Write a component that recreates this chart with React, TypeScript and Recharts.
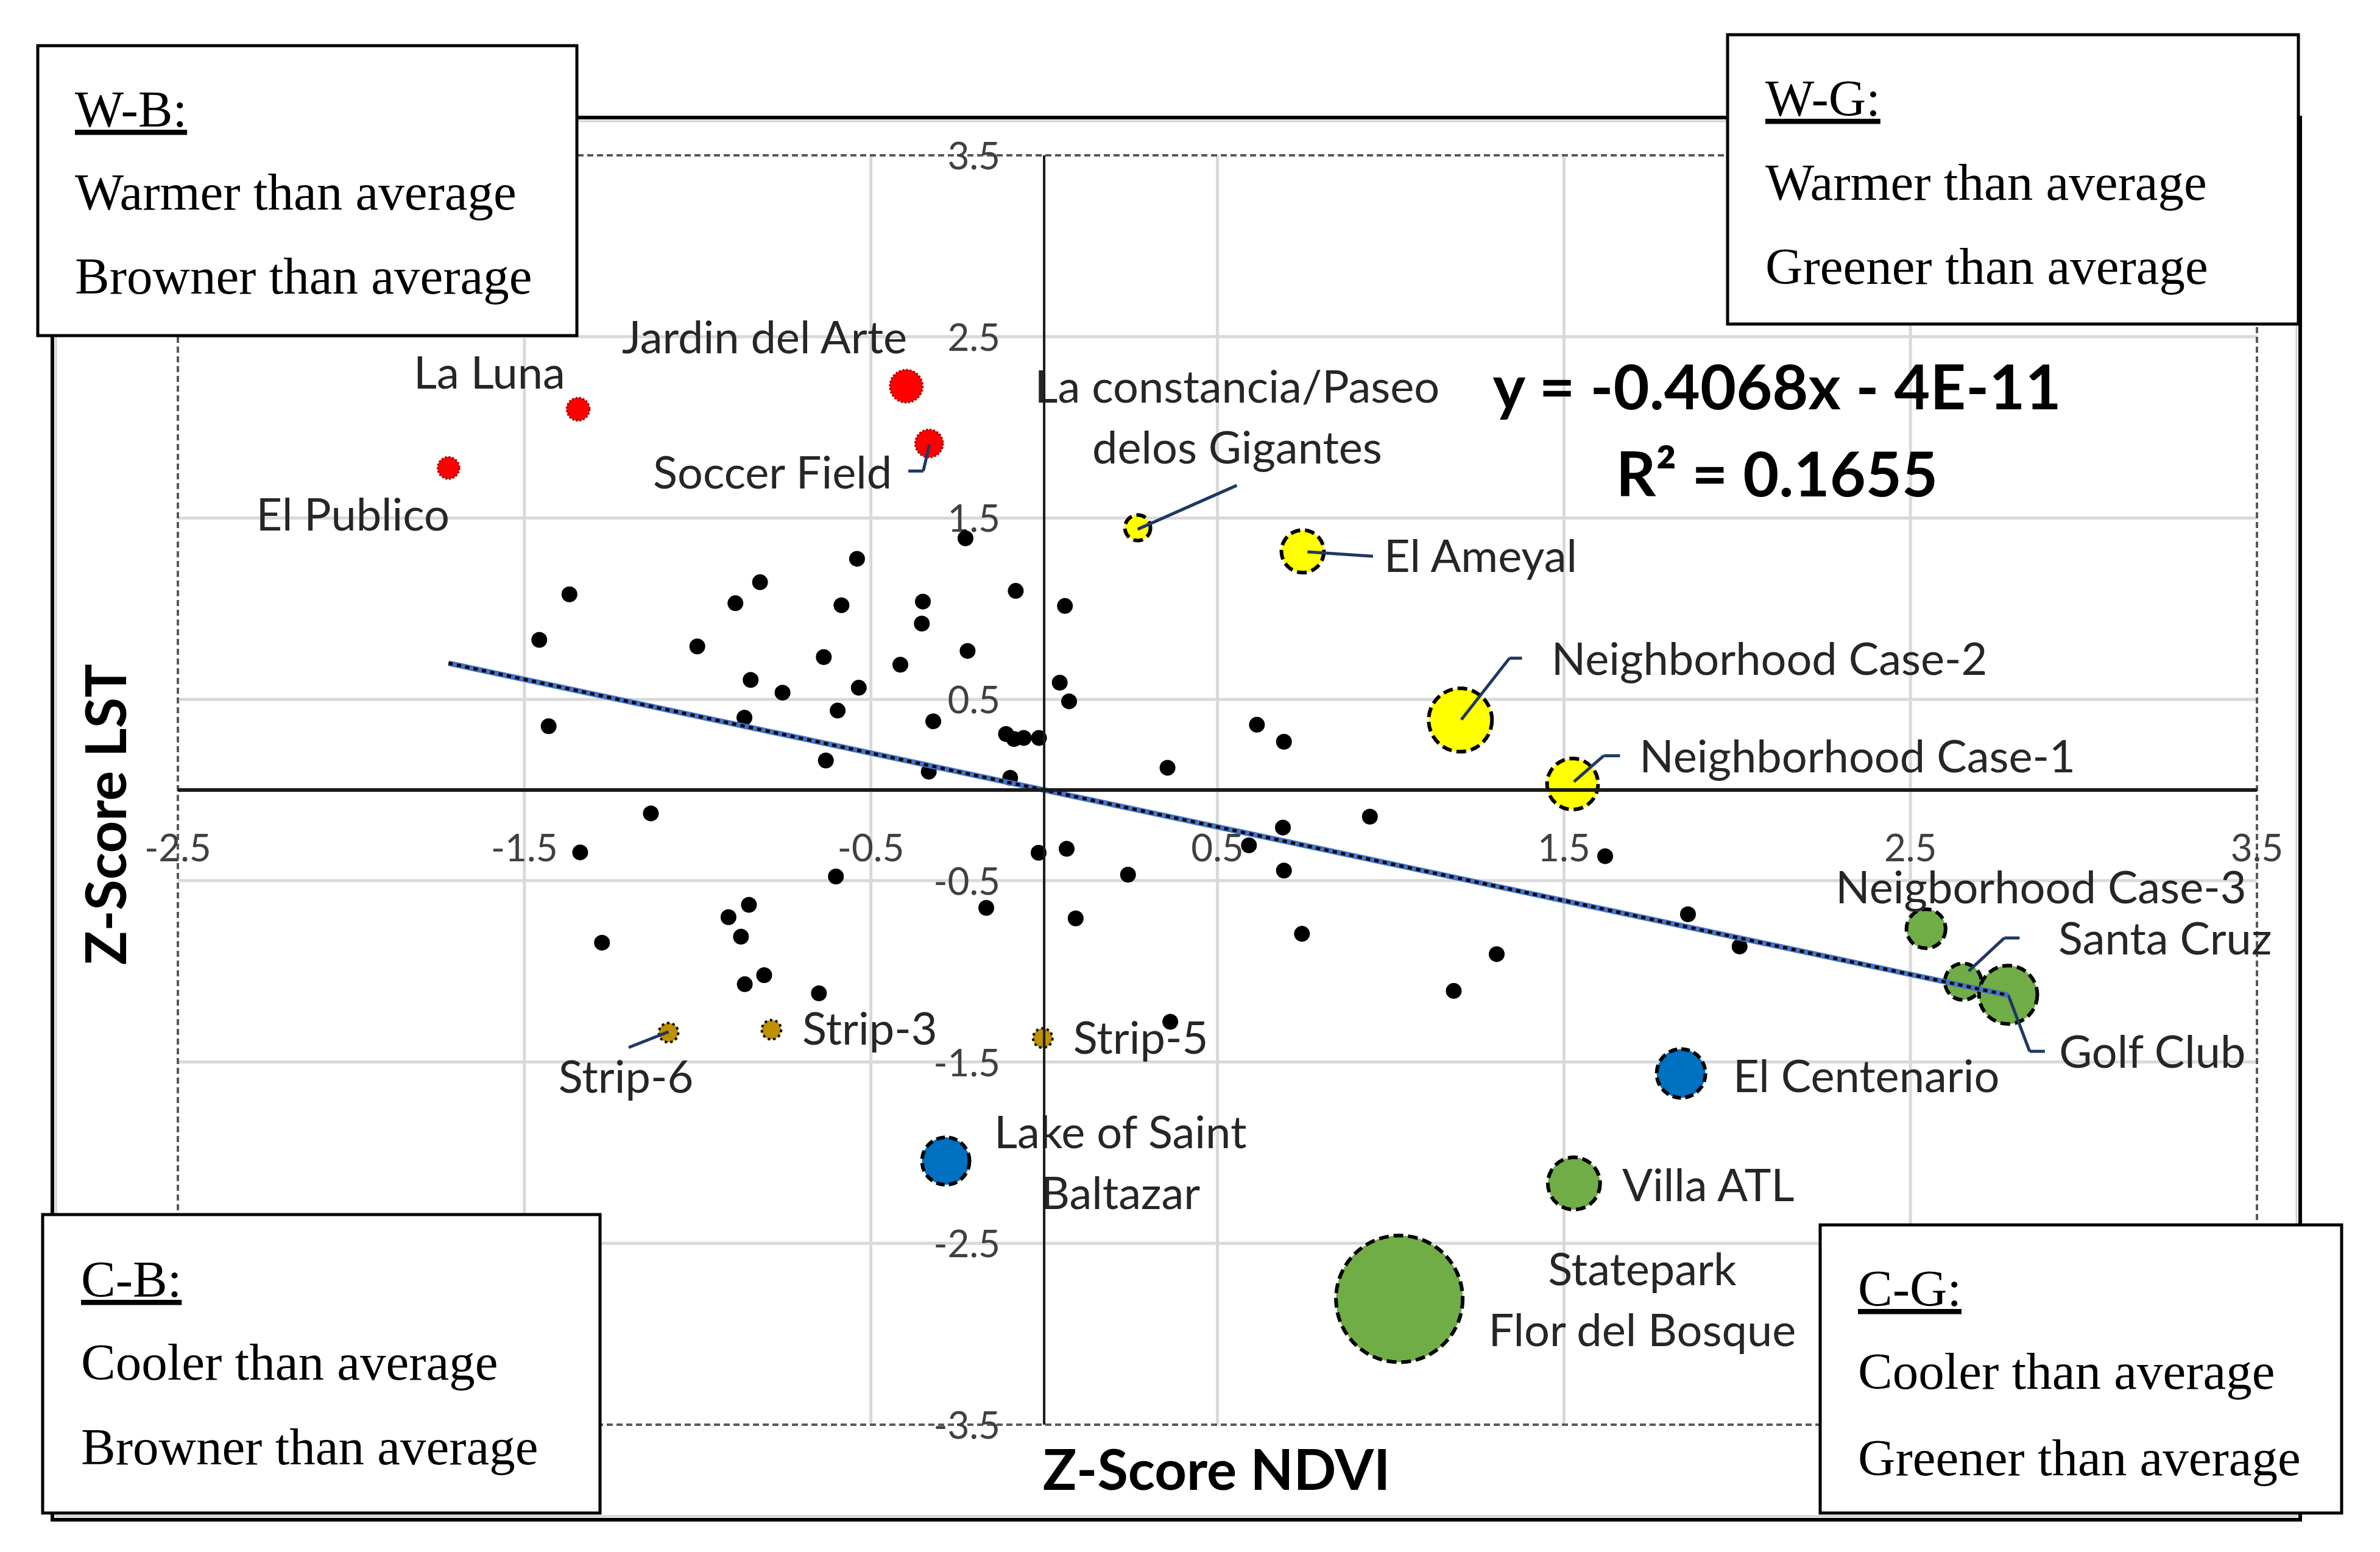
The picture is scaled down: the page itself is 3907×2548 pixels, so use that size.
import React from 'react';
import { ScatterChart, Scatter, XAxis, YAxis, ReferenceLine } from 'recharts';

const W = 3907;
const H = 2548;

const xDomain = [-2.5, 3.5];
const yDomain = [-3.5, 3.5];
const xTicks = [-2.5, -1.5, -0.5, 0.5, 1.5, 2.5, 3.5];
const yTicks = [3.5, 2.5, 1.5, 0.5, -0.5, -1.5, -2.5, -3.5];

const trendSlope = -0.4068;
const trendIntercept = -4e-11;
const equationText = 'y = -0.4068x - 4E-11';
const r2Text = 'R\u00B2 = 0.1655';

// other sites (black dots): x = Z-Score NDVI, y = Z-Score LST
const otherSites = [
  { x: -0.227, y: 1.388 }, { x: -0.54, y: 1.275 }, { x: -0.82, y: 1.146 }, { x: -1.37, y: 1.079 },
  { x: -0.891, y: 1.03 }, { x: -0.585, y: 1.019 }, { x: -0.35, y: 1.039 }, { x: -0.082, y: 1.098 },
  { x: 0.06, y: 1.015 }, { x: -0.353, y: 0.918 }, { x: -1.457, y: 0.828 }, { x: -1.001, y: 0.792 },
  { x: -0.636, y: 0.733 }, { x: -0.221, y: 0.767 }, { x: -0.415, y: 0.691 }, { x: -0.847, y: 0.607 },
  { x: -0.755, y: 0.537 }, { x: -0.535, y: 0.564 }, { x: 0.045, y: 0.592 }, { x: 0.072, y: 0.489 },
  { x: -0.596, y: 0.438 }, { x: -1.43, y: 0.352 }, { x: -0.865, y: 0.399 }, { x: -0.32, y: 0.379 },
  { x: -0.11, y: 0.309 }, { x: -0.087, y: 0.281 }, { x: -0.059, y: 0.287 }, { x: -0.015, y: 0.287 },
  { x: -0.63, y: 0.163 }, { x: -0.333, y: 0.101 }, { x: -0.098, y: 0.067 }, { x: -1.135, y: -0.129 },
  { x: -1.339, y: -0.344 }, { x: -0.601, y: -0.477 }, { x: -0.167, y: -0.65 }, { x: -0.016, y: -0.346 },
  { x: 0.065, y: -0.324 }, { x: 0.091, y: -0.708 }, { x: -0.852, y: -0.633 }, { x: -0.911, y: -0.701 },
  { x: -0.875, y: -0.809 }, { x: -1.276, y: -0.842 }, { x: -0.808, y: -1.021 }, { x: -0.864, y: -1.071 },
  { x: -0.65, y: -1.121 },
  { x: 0.614, y: 0.36 }, { x: 0.692, y: 0.266 }, { x: 0.356, y: 0.123 }, { x: 0.94, y: -0.147 },
  { x: 0.689, y: -0.207 }, { x: 0.591, y: -0.305 }, { x: 0.692, y: -0.444 }, { x: 0.242, y: -0.467 },
  { x: 1.619, y: -0.365 }, { x: 1.858, y: -0.685 }, { x: 2.007, y: -0.863 }, { x: 0.744, y: -0.793 },
  { x: 1.306, y: -0.905 }, { x: 1.182, y: -1.108 }, { x: 0.364, y: -1.278 },
];

// z = relative bubble size
const warmBrownSites = [
  { name: 'El Publico', x: -1.719, y: 1.776, z: 1.9 },
  { name: 'La Luna', x: -1.345, y: 2.1, z: 2.1 },
  { name: 'Jardin del Arte', x: -0.398, y: 2.227, z: 4.3 },
  { name: 'Soccer Field', x: -0.332, y: 1.911, z: 3.1 },
];
const warmGreenSites = [
  { name: 'La constancia/Paseo delos Gigantes', x: 0.27, y: 1.446, z: 2.6 },
  { name: 'El Ameyal', x: 0.746, y: 1.316, z: 7.2 },
  { name: 'Neighborhood Case-2', x: 1.201, y: 0.386, z: 16 },
  { name: 'Neighborhood Case-1', x: 1.525, y: 0.033, z: 10.4 },
];
const coolGreenSites = [
  { name: 'Neigborhood Case-3', x: 2.545, y: -0.765, z: 6.1 },
  { name: 'Santa Cruz', x: 2.652, y: -1.057, z: 5.3 },
  { name: 'Golf Club', x: 2.782, y: -1.129, z: 13.6 },
  { name: 'Villa ATL', x: 1.529, y: -2.17, z: 10.9 },
  { name: 'Statepark Flor del Bosque', x: 1.025, y: -2.806, z: 64 },
];
const waterSites = [
  { name: 'Lake of Saint Baltazar', x: -0.284, y: -2.046, z: 9 },
  { name: 'El Centenario', x: 1.838, y: -1.563, z: 9.5 },
];
const stripSites = [
  { name: 'Strip-6', x: -1.084, y: -1.338, z: 1.5 },
  { name: 'Strip-3', x: -0.787, y: -1.322, z: 1.5 },
  { name: 'Strip-5', x: -0.004, y: -1.368, z: 1.5 },
];

// annotation text anchors (data coordinates)
const siteLabels = [
  { lines: ['La Luna'], x: -1.601, y: 2.213, anchor: 'middle' },
  { lines: ['El Publico'], x: -1.995, y: 1.43, anchor: 'middle' },
  { lines: ['Jardin del Arte'], x: -0.807, y: 2.408, anchor: 'middle' },
  { lines: ['Soccer Field'], x: -0.784, y: 1.662, anchor: 'middle' },
  { lines: ['La constancia/Paseo', 'delos Gigantes'], x: 0.557, y: 2.136, anchor: 'middle' },
  { lines: ['El Ameyal'], x: 0.981, y: 1.202, anchor: 'start' },
  { lines: ['Neighborhood Case-2'], x: 1.464, y: 0.635, anchor: 'start' },
  { lines: ['Neighborhood Case-1'], x: 1.718, y: 0.097, anchor: 'start' },
  { lines: ['Neigborhood Case-3'], x: 2.284, y: -0.625, anchor: 'start' },
  { lines: ['Santa Cruz'], x: 2.927, y: -0.907, anchor: 'start' },
  { lines: ['Golf Club'], x: 2.929, y: -1.531, anchor: 'start' },
  { lines: ['El Centenario'], x: 1.988, y: -1.666, anchor: 'start' },
  { lines: ['Villa ATL'], x: 1.668, y: -2.267, anchor: 'start' },
  { lines: ['Statepark', 'Flor del Bosque'], x: 1.726, y: -2.73, anchor: 'middle' },
  { lines: ['Lake of Saint', 'Baltazar'], x: 0.22, y: -1.976, anchor: 'middle' },
  { lines: ['Strip-3'], x: -0.698, y: -1.404, anchor: 'start' },
  { lines: ['Strip-5'], x: 0.084, y: -1.456, anchor: 'start' },
  { lines: ['Strip-6'], x: -1.207, y: -1.671, anchor: 'middle' },
];

// leader lines (data coordinates)
const leaderLines = [
  [{ x: -0.331, y: 1.904 }, { x: -0.349, y: 1.759 }, { x: -0.392, y: 1.759 }],
  [{ x: 0.27, y: 1.438 }, { x: 0.556, y: 1.68 }],
  [{ x: 0.76, y: 1.313 }, { x: 0.949, y: 1.289 }],
  [{ x: 1.204, y: 0.388 }, { x: 1.343, y: 0.727 }, { x: 1.379, y: 0.727 }],
  [{ x: 1.529, y: 0.046 }, { x: 1.615, y: 0.189 }, { x: 1.662, y: 0.189 }],
  [{ x: 2.668, y: -0.999 }, { x: 2.771, y: -0.816 }, { x: 2.815, y: -0.816 }],
  [{ x: 2.782, y: -1.129 }, { x: 2.844, y: -1.441 }, { x: 2.888, y: -1.441 }],
  [{ x: -1.084, y: -1.333 }, { x: -1.199, y: -1.42 }],
];

const quadrantBoxes = [
  { title: 'W-B:', lines: ['Warmer than average', 'Browner than average'] },
  { title: 'W-G:', lines: ['Warmer than average', 'Greener than average'] },
  { title: 'C-B:', lines: ['Cooler than average', 'Browner than average'] },
  { title: 'C-G:', lines: ['Cooler than average', 'Greener than average'] },
];
const boxGeom = [
  { x: 62, y: 75, w: 885, h: 476, tx: 123, b: [208, 344, 482] },
  { x: 2836, y: 57, w: 937, h: 475, tx: 2898, b: [190, 328, 466] },
  { x: 70, y: 1994, w: 915, h: 490, tx: 133, b: [2129, 2265, 2404] },
  { x: 2988, y: 2011, w: 856, h: 473, tx: 3050, b: [2144, 2280, 2422] },
];

const SANS = 'Lato, "Open Sans", sans-serif';
const SERIF = '"Liberation Serif", "DejaVu Serif", serif';
const R_UNIT = 13;

const allSites = [...otherSites, ...warmBrownSites, ...warmGreenSites, ...coolGreenSites, ...waterSites, ...stripSites];
const xMin = Math.min(...allSites.map((d) => d.x));
const xMax = Math.max(...allSites.map((d) => d.x));

const bubble = (fill: string, stroke: string, sw: number, dash: string) => (p: any) => {
  const z = p.payload && p.payload.z != null ? p.payload.z : 1;
  const r = R_UNIT * Math.sqrt(z);
  return <circle cx={p.cx} cy={p.cy} r={r} fill={fill} stroke={stroke} strokeWidth={sw} strokeDasharray={dash} />;
};

const dotShape = (p: any) => <circle cx={p.cx} cy={p.cy} r={R_UNIT} fill="#000" />;

const labelShape = (p: any) => {
  const d = p.payload;
  return (
    <text x={p.cx} y={p.cy} textAnchor={d.anchor} fontFamily={SANS} fontSize={74} fill="#262626">
      {d.lines.map((l: string, i: number) => (
        <tspan key={i} x={p.cx} dy={i === 0 ? 0 : 100}>{l}</tspan>
      ))}
    </text>
  );
};

const xTickShape = (p: any) => (
  <text x={p.cx} y={p.cy + 117} textAnchor="middle" fontFamily={SANS} fontSize={62} fill="#404040">
    {p.payload.label}
  </text>
);
const yTickShape = (p: any) => (
  <text x={p.cx - 72} y={p.cy + 23} textAnchor="end" fontFamily={SANS} fontSize={62} fill="#404040">
    {p.payload.label}
  </text>
);

const xTickData = xTicks.map((t) => ({ x: t, y: 0, label: String(t) }));
const yTickData = yTicks.map((t) => ({ x: 0, y: t, label: String(t) }));

export default function App() {
  const innerX = xTicks.filter((t) => t !== xDomain[0] && t !== xDomain[1]);
  const innerY = yTicks.filter((t) => t !== yDomain[0] && t !== yDomain[1]);
  const trendSeg = [
    { x: xMin, y: trendSlope * xMin + trendIntercept },
    { x: xMax, y: trendSlope * xMax + trendIntercept },
  ];
  return (
    <div style={{ position: 'absolute', left: 0, top: 0, width: W, height: H, background: '#fff', overflow: 'hidden' }}>
      <ScatterChart width={W} height={H} margin={{ top: 255, right: 202, bottom: 209, left: 292 }}>
        <XAxis type="number" dataKey="x" domain={xDomain} ticks={xTicks} hide />
        <YAxis type="number" dataKey="y" domain={yDomain} ticks={yTicks} hide />
        {innerX.map((t) => (
          <ReferenceLine key={'gx' + t} x={t} stroke="#D9D9D9" strokeWidth={5} zIndex={-100} />
        ))}
        {innerY.map((t) => (
          <ReferenceLine key={'gy' + t} y={t} stroke="#D9D9D9" strokeWidth={5} zIndex={-100} />
        ))}
        {[xDomain[0], xDomain[1]].map((t) => (
          <ReferenceLine key={'bx' + t} x={t} stroke="#595959" strokeWidth={4} strokeDasharray="10 6" zIndex={-90} />
        ))}
        {[yDomain[0], yDomain[1]].map((t) => (
          <ReferenceLine key={'by' + t} y={t} stroke="#595959" strokeWidth={4} strokeDasharray="10 6" zIndex={-90} />
        ))}
        <Scatter data={xTickData} shape={xTickShape} isAnimationActive={false} zIndex={590} />
        <Scatter data={yTickData} shape={yTickShape} isAnimationActive={false} zIndex={590} />
        <Scatter data={otherSites} shape={dotShape} isAnimationActive={false} zIndex={600} />
        <Scatter data={warmBrownSites} shape={bubble('#FF0000', '#A00000', 3, '3 3')} isAnimationActive={false} zIndex={601} />
        <Scatter data={warmGreenSites} shape={bubble('#FFFF00', '#000000', 6, '16 8')} isAnimationActive={false} zIndex={602} />
        <Scatter data={coolGreenSites} shape={bubble('#70AD47', '#000000', 6, '16 8')} isAnimationActive={false} zIndex={603} />
        <Scatter data={waterSites} shape={bubble('#0070C0', '#000000', 6, '14 7')} isAnimationActive={false} zIndex={604} />
        <Scatter data={stripSites} shape={bubble('#BF9000', '#000000', 4, '4 5')} isAnimationActive={false} zIndex={605} />
        <Scatter data={siteLabels} shape={labelShape} isAnimationActive={false} zIndex={606} />
        {leaderLines.map((pts, i) =>
          pts.slice(1).map((pt, j) => (
            <ReferenceLine key={'ld' + i + '-' + j} segment={[pts[j], pt]} stroke="#1F3864" strokeWidth={5} zIndex={700} />
          ))
        )}
        <ReferenceLine segment={trendSeg} stroke="#4472C4" strokeWidth={9} zIndex={710} />
        <ReferenceLine segment={trendSeg} stroke="#000000" strokeWidth={5} strokeDasharray="7 7" zIndex={711} />
        <ReferenceLine x={0} stroke="#1A1A1A" strokeWidth={4} zIndex={720} />
        <ReferenceLine y={0} stroke="#1A1A1A" strokeWidth={6} zIndex={720} />
      </ScatterChart>
      <svg width={W} height={H} style={{ position: 'absolute', left: 0, top: 0, pointerEvents: 'none' }}>
        <rect x={86} y={193} width={3690} height={2302} fill="none" stroke="#000" strokeWidth={6} />
        <rect x={92} y={199} width={3678} height={2290} fill="none" stroke="#D0D0D0" strokeWidth={3} />
        <text x={2917} y={672} textAnchor="middle" fontFamily={SANS} fontWeight={700} fontSize={102} fill="#000">
          {equationText}
        </text>
        <text x={2917} y={815} textAnchor="middle" fontFamily={SANS} fontWeight={700} fontSize={102} fill="#000">
          {r2Text}
        </text>
        <text x={1997} y={2446} textAnchor="middle" fontFamily={SANS} fontWeight={700} fontSize={92} fill="#000">
          Z-Score NDVI
        </text>
        <text x={207} y={1337} textAnchor="middle" fontFamily={SANS} fontWeight={700} fontSize={92} fill="#000" transform="rotate(-90 207 1337)">
          Z-Score LST
        </text>
        {quadrantBoxes.map((q, i) => {
          const g = boxGeom[i];
          return (
            <g key={q.title}>
              <rect x={g.x} y={g.y} width={g.w} height={g.h} fill="#fff" stroke="#000" strokeWidth={5} />
              <text x={g.tx} y={g.b[0]} fontFamily={SERIF} fontSize={85} fill="#000" style={{ textDecoration: 'underline' }}>
                {q.title}
              </text>
              {q.lines.map((l, j) => (
                <text key={j} x={g.tx} y={g.b[j + 1]} fontFamily={SERIF} fontSize={85} fill="#000">
                  {l}
                </text>
              ))}
            </g>
          );
        })}
      </svg>
    </div>
  );
}
